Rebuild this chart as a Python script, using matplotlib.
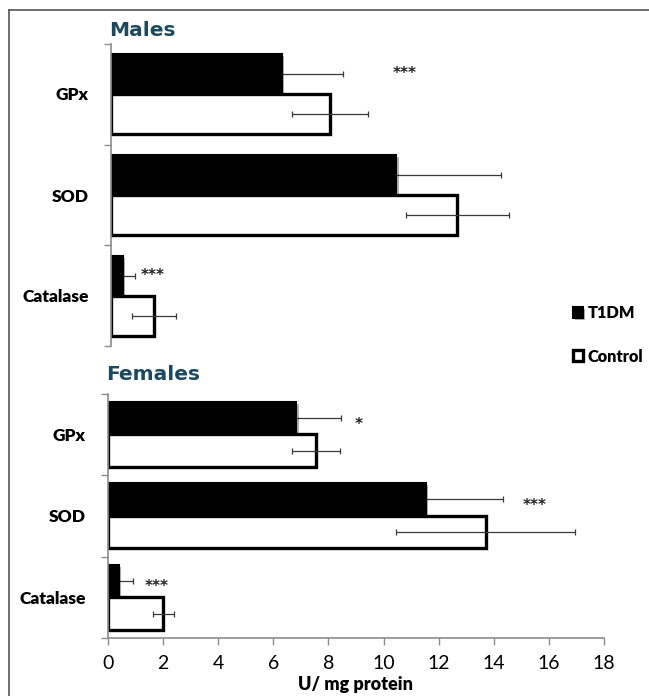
import matplotlib

matplotlib.use("Agg")
import matplotlib.pyplot as plt
import matplotlib.patheffects as pe
from matplotlib.lines import Line2D
import numpy as np

# Antioxidant enzyme activity, U/mg protein
enzymes = ["GPx", "SOD", "Catalase"]

males_t1dm = [6.2, 10.35, 0.42]
males_t1dm_err = [2.2, 3.78, 0.45]
males_control = [7.95, 12.55, 1.55]
males_control_err = [1.38, 1.87, 0.79]

females_t1dm = [6.84, 11.53, 0.40]
females_t1dm_err = [1.63, 2.81, 0.49]
females_control = [7.56, 13.7, 2.0]
females_control_err = [0.87, 3.25, 0.38]

xticks = [0, 2, 4, 6, 8, 10, 12, 14, 16, 18]

# significance marks: text, x (data units), y (category position)
males_stars = [("***", 10.65, -0.2), ("***", 1.51, 1.8)]
females_stars = [("*", 9.1, -0.12), ("***", 15.5, 0.87), ("***", 1.76, 1.87)]

W, H = 649, 696
LABEL_FONT = "Lato"
TITLE_COLOR = "#1b4a60"
AXIS_GREY = "#8c8c8c"

fig = plt.figure(figsize=(W / 100, H / 100), dpi=100)


def px_axes(left, top, right, bottom):
    return fig.add_axes([left / W, 1 - bottom / H, (right - left) / W, (bottom - top) / H])


def draw_panel(ax, t1dm, t1dm_err, control, control_err, stars, show_x):
    pos = np.arange(len(enzymes))
    shadow = [pe.SimplePatchShadow(offset=(1.5, -1.5), alpha=0.3), pe.Normal()]
    err_kw = dict(ecolor="#3a3a3a", elinewidth=0.9, capsize=2.5, capthick=0.9)
    # T1DM whiskers sit under the black bars, so only the right half shows
    ax.errorbar(t1dm, pos - 0.2, xerr=t1dm_err, fmt="none", zorder=1, **err_kw)
    bt = ax.barh(pos - 0.2, t1dm, height=0.4, color="black", edgecolor="black",
                 linewidth=1.5, label="T1DM", zorder=2)
    bc = ax.barh(pos + 0.2, control, height=0.4, color="white", edgecolor="black",
                 linewidth=2.4, label="Control", zorder=2)
    for b in list(bt) + list(bc):
        b.set_path_effects(shadow)
    ax.errorbar(control, pos + 0.2, xerr=control_err, fmt="none", zorder=3, **err_kw)

    for txt, x, y in stars:
        ax.text(x, y, txt, ha="center", va="center", fontsize=11,
                fontweight="bold", family="DejaVu Sans", color="#222222", zorder=4)

    ax.set_xlim(0, 18)
    ax.set_ylim(len(enzymes) - 0.5, -0.5)

    ax.set_yticks(np.arange(len(enzymes) + 1) - 0.5)
    ax.set_yticklabels([])
    ax.set_yticks(pos, minor=True)
    ax.set_yticklabels(enzymes, minor=True, fontsize=12.5, fontweight="heavy",
                       family=LABEL_FONT)
    ax.tick_params(axis="y", which="major", length=5, color=AXIS_GREY, width=1)
    ax.tick_params(axis="y", which="minor", length=0, pad=16)

    for side in ("top", "right"):
        ax.spines[side].set_visible(False)
    ax.spines["left"].set_color(AXIS_GREY)
    ax.spines["left"].set_linewidth(1.2)

    if show_x:
        ax.set_xticks(xticks)
        ax.set_xticklabels([str(t) for t in xticks], fontsize=14, family=LABEL_FONT)
        ax.tick_params(axis="x", length=5, color=AXIS_GREY, width=1, pad=7)
        ax.spines["bottom"].set_color(AXIS_GREY)
        ax.spines["bottom"].set_linewidth(1.2)
        ax.set_xlabel("U/ mg protein", fontsize=13, fontweight="heavy",
                      family=LABEL_FONT, labelpad=3)
    else:
        ax.set_xticks([])
        ax.spines["bottom"].set_visible(False)
    return bt, bc


ax_m = px_axes(111, 43.5, 607.5, 346.5)
ax_f = px_axes(108, 393.5, 604, 638)

handles = draw_panel(ax_m, males_t1dm, males_t1dm_err, males_control,
                     males_control_err, males_stars, show_x=False)
draw_panel(ax_f, females_t1dm, females_t1dm_err, females_control,
           females_control_err, females_stars, show_x=True)

fig.text(109 / W, 1 - 31 / H, "Males", fontsize=14.5, fontweight="bold",
         family="DejaVu Sans", color=TITLE_COLOR, ha="left", va="center")
fig.text(106 / W, 1 - 374 / H, "Females", fontsize=14.5, fontweight="bold",
         family="DejaVu Sans", color=TITLE_COLOR, ha="left", va="center")

leg = fig.legend(handles, ["T1DM", "Control"], loc="center left",
                 bbox_to_anchor=(565 / W, 1 - 335 / H), frameon=False,
                 handlelength=0.62, handleheight=0.62, handletextpad=0.25,
                 labelspacing=1.65, borderpad=0,
                 prop=dict(family=LABEL_FONT, weight="heavy", size=11.8))

# frame lines along the top and left edges
fig.add_artist(Line2D([9 / W, 9 / W], [0, 1 - 10 / H], transform=fig.transFigure,
                      color="#555555", linewidth=1.2))
fig.add_artist(Line2D([9 / W, 1], [1 - 10 / H, 1 - 10 / H], transform=fig.transFigure,
                      color="#555555", linewidth=1.2))

fig.savefig("out.png", dpi=100)
